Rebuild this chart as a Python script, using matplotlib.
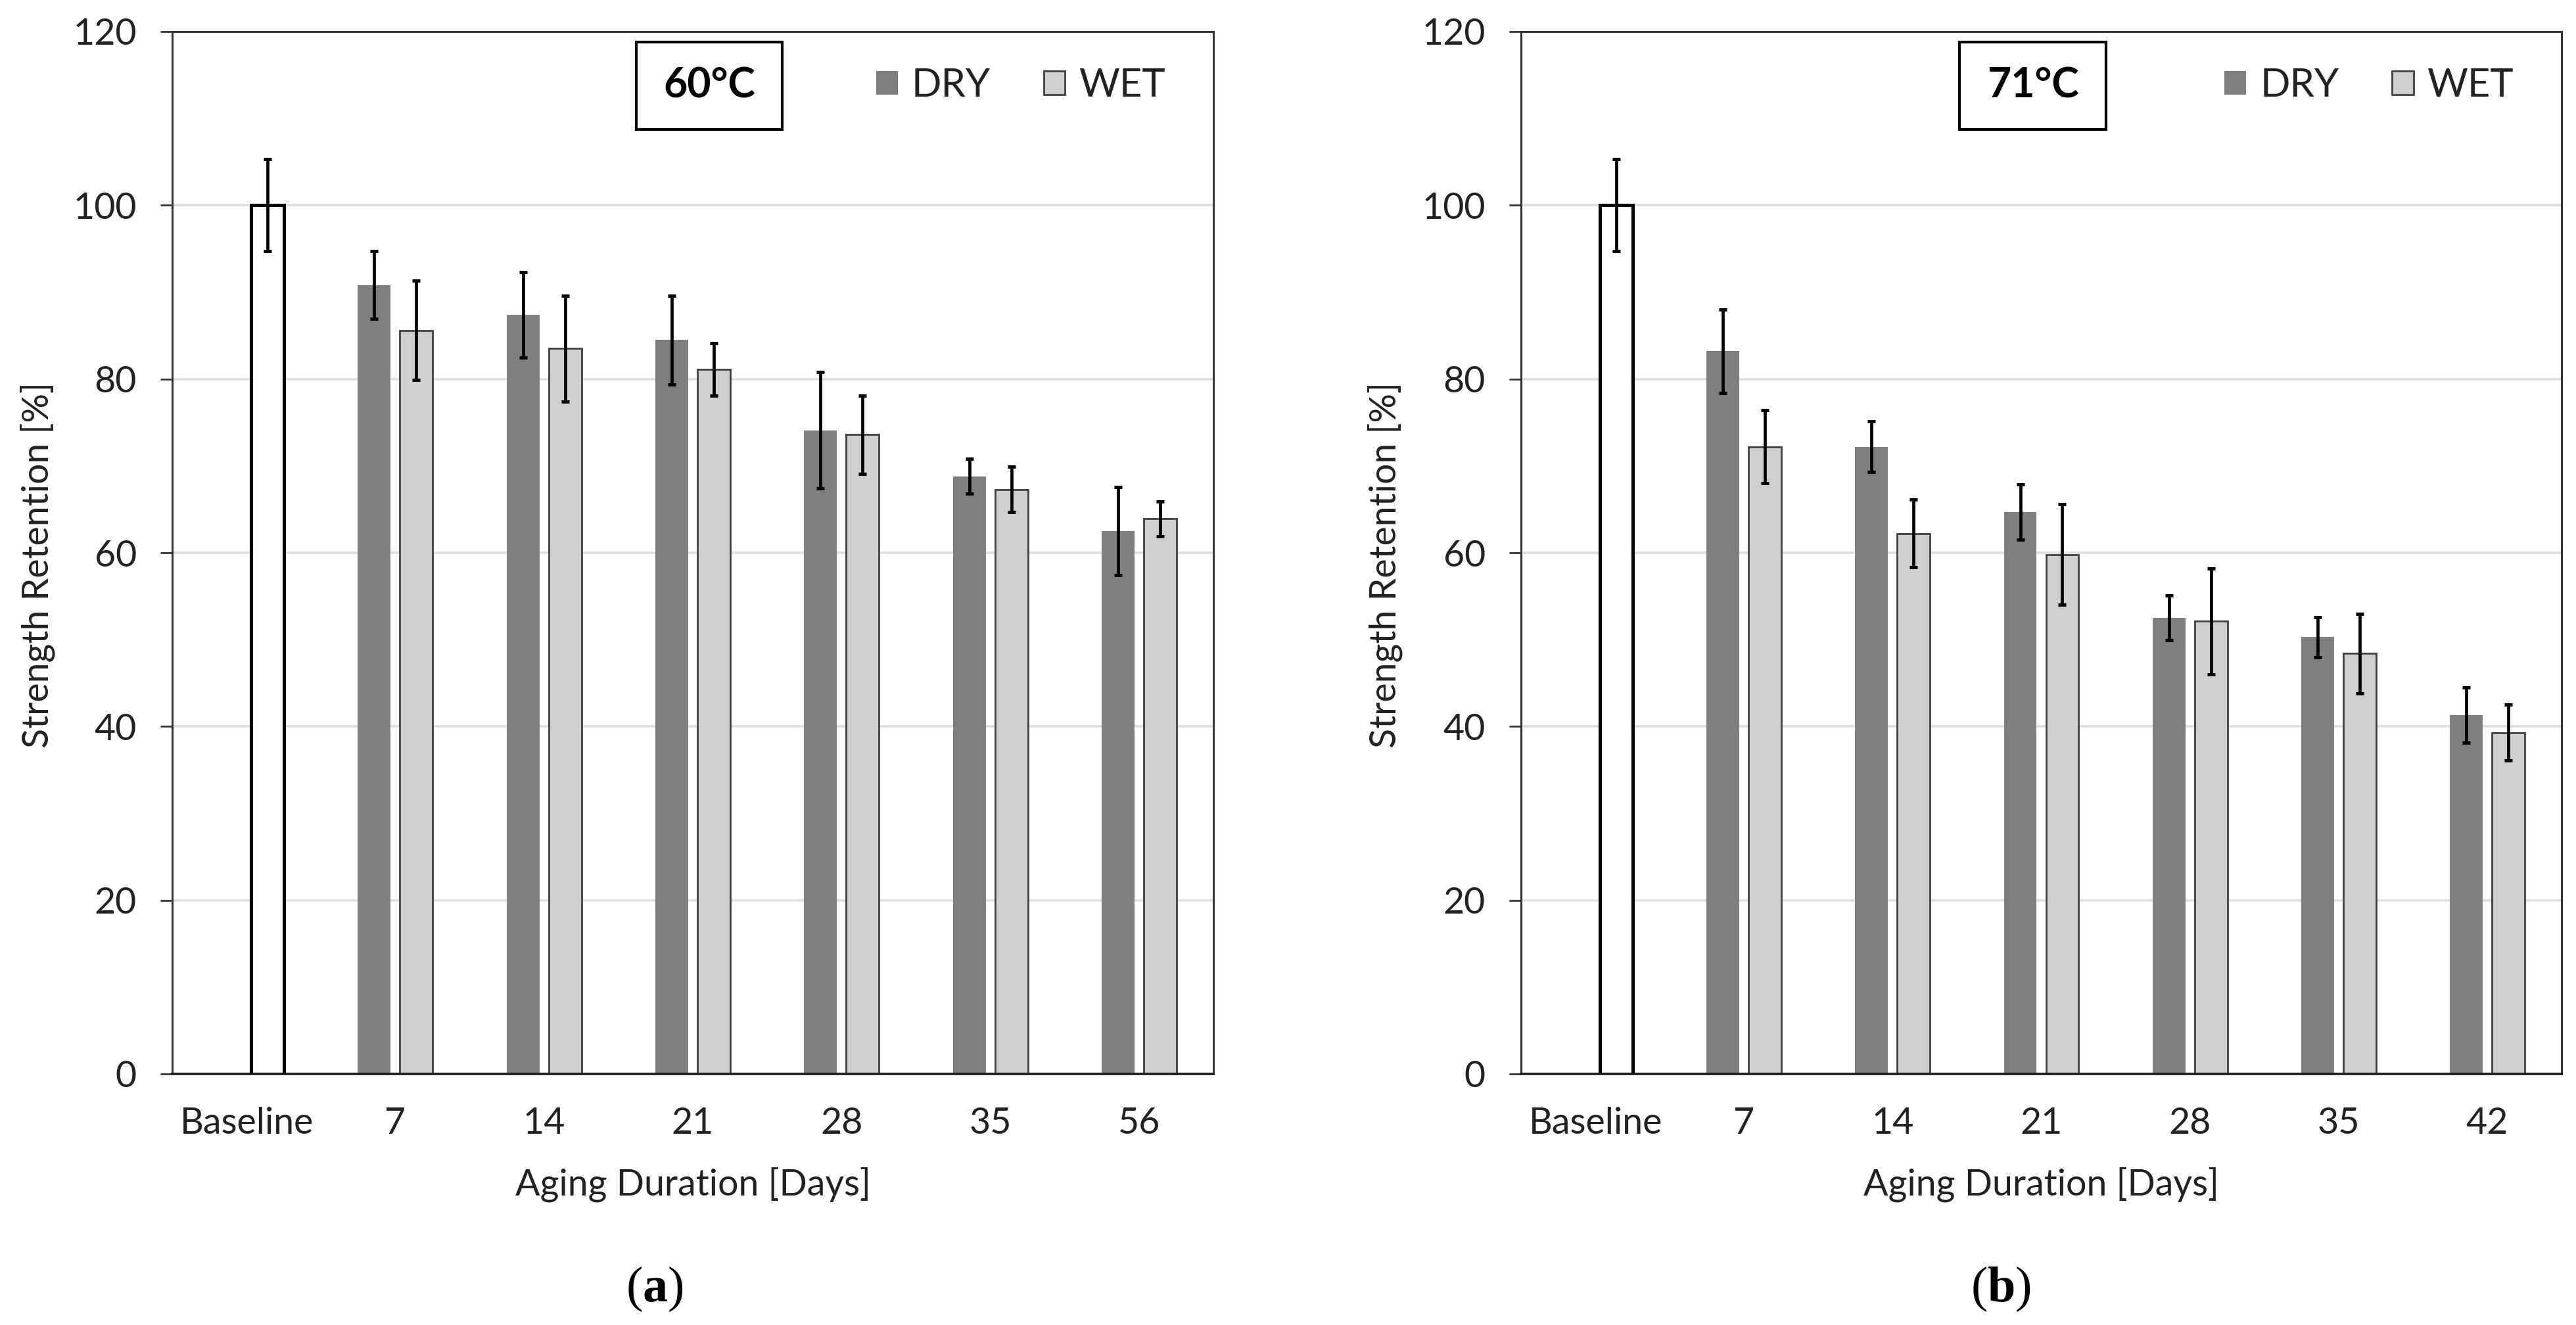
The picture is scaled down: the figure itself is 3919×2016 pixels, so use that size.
import matplotlib
matplotlib.use("Agg")
import matplotlib.pyplot as plt
from matplotlib.patches import Patch, Rectangle
import numpy as np

# ---------------- data ----------------
cats_a = ['Baseline', '7', '14', '21', '28', '35', '56']
cats_b = ['Baseline', '7', '14', '21', '28', '35', '42']
baseline_val = 100.0
baseline_err = 5.3

dry_a = [90.8, 87.4, 84.5, 74.1, 68.8, 62.5]
dry_a_err = [3.9, 4.9, 5.1, 6.7, 2.0, 5.1]
wet_a = [85.6, 83.5, 81.1, 73.6, 67.3, 63.9]
wet_a_err = [5.7, 6.1, 3.0, 4.5, 2.6, 2.0]

dry_b = [83.2, 72.2, 64.7, 52.5, 50.3, 41.3]
dry_b_err = [4.8, 2.9, 3.2, 2.6, 2.3, 3.2]
wet_b = [72.2, 62.2, 59.8, 52.1, 48.4, 39.3]
wet_b_err = [4.2, 3.9, 5.8, 6.1, 4.6, 3.2]

temps = ['60°C', '71°C']
series_names = ['DRY', 'WET']
yticks = [0, 20, 40, 60, 80, 100, 120]
xlabel = 'Aging Duration [Days]'
ylabel = 'Strength Retention [%]'
captions = ['a', 'b']

# ---------------- style ----------------
plt.rcParams['font.family'] = ['Lato', 'DejaVu Sans']
plt.rcParams['mathtext.fontset'] = 'custom'
plt.rcParams['mathtext.rm'] = 'Liberation Serif'
plt.rcParams['mathtext.bf'] = 'Liberation Serif:bold'

DRY_C = '#7f7f7f'
WET_C = '#d0cece'
W = 3919
H = 2016
fig = plt.figure(figsize=(W / 100, H / 100), dpi=100)

ax_specs = [
    dict(left=262, right=1846, box_x0=968, box_x1=1190, cap_x=996, ylab_x=57),
    dict(left=2314, right=3897, box_x0=2981, box_x1=3204, cap_x=3044, ylab_x=2107),
]
top_px, bot_px = 48, 1634

panels = [
    (cats_a, dry_a, dry_a_err, wet_a, wet_a_err),
    (cats_b, dry_b, dry_b_err, wet_b, wet_b_err),
]

bw = 0.221
off = 0.1415
tick_fs = 40
leg_fs = 43

for i, (spec, (cats, dry, dry_err, wet, wet_err)) in enumerate(zip(ax_specs, panels)):
    l, r = spec['left'], spec['right']
    ax = fig.add_axes([l / W, 1 - bot_px / H, (r - l) / W, (bot_px - top_px) / H])
    x = np.arange(len(cats))
    xs = x[1:]
    # baseline bar
    ax.bar([x[0] + off], [baseline_val], width=bw, color='white', edgecolor='black',
           linewidth=3.6, zorder=3)
    ax.errorbar([x[0] + off], [baseline_val], yerr=[baseline_err], fmt='none',
                ecolor='black', elinewidth=3.4, capsize=4.5, capthick=3.6, zorder=5)
    ax.bar(xs - off, dry, width=bw, color=DRY_C, edgecolor='none', zorder=3, label=series_names[0])
    ax.bar(xs + off, wet, width=bw, color=WET_C, edgecolor='#404040', linewidth=2.0,
           zorder=3, label=series_names[1])
    ax.errorbar(xs - off, dry, yerr=dry_err, fmt='none', ecolor='black',
                elinewidth=3.4, capsize=4.5, capthick=3.6, zorder=5)
    ax.errorbar(xs + off, wet, yerr=wet_err, fmt='none', ecolor='black',
                elinewidth=3.4, capsize=4.5, capthick=3.6, zorder=5)

    ax.set_xlim(-0.5, len(cats) - 0.5)
    ax.set_ylim(0, 120)
    ax.set_yticks(yticks)
    ax.set_xticks(x)
    ax.set_xticklabels(cats)
    ax.tick_params(axis='x', length=0, pad=36, labelsize=tick_fs, colors='#222222')
    ax.tick_params(axis='y', length=13, width=2.0, pad=26, labelsize=tick_fs,
                   colors='#333333', labelcolor='#222222')
    for yv in yticks[1:-1]:
        ax.axhline(yv, color='#e0e0e0', lw=2.6, zorder=0)
    for s in ['left', 'right', 'top']:
        ax.spines[s].set_linewidth(2.2)
        ax.spines[s].set_color('#333333')
    ax.spines['bottom'].set_linewidth(2.8)
    ax.spines['bottom'].set_color('#222222')
    for sp in ax.spines.values():
        sp.set_zorder(6)

    ax.set_xlabel(xlabel, fontsize=tick_fs, color='#222222')
    ax.xaxis.set_label_coords(0.5, (bot_px - 1802) / (bot_px - top_px))
    ax.xaxis.label.set_va('center')
    ax.set_ylabel(ylabel, fontsize=tick_fs, color='#222222')
    ax.yaxis.set_label_coords((spec['ylab_x'] - l) / (r - l), (bot_px - 860) / (bot_px - top_px))
    ax.yaxis.label.set_va('center')

    # temperature box
    bx0 = (spec['box_x0'] - l) / (r - l)
    bx1 = (spec['box_x1'] - l) / (r - l)
    by0 = (bot_px - 197) / (bot_px - top_px)
    by1 = (bot_px - 64) / (bot_px - top_px)
    ax.add_patch(Rectangle((bx0, by0), bx1 - bx0, by1 - by0, transform=ax.transAxes,
                           facecolor='white', edgecolor='black', lw=3.0, zorder=7))
    ax.text((bx0 + bx1) / 2, (by0 + by1) / 2, temps[i], transform=ax.transAxes,
            ha='center', va='center', fontsize=leg_fs + 2, fontweight='bold', zorder=8)

    # legend
    handles = [Patch(facecolor=DRY_C, edgecolor='none'),
               Patch(facecolor=WET_C, edgecolor='#404040', linewidth=2.0)]
    leg = ax.legend(handles, series_names, loc='center left',
                    bbox_to_anchor=((1333 - 262) / (1846 - 262), (bot_px - 130) / (bot_px - top_px)),
                    ncol=2, frameon=False, fontsize=leg_fs, handlelength=0.55,
                    handleheight=0.55, handletextpad=0.35, columnspacing=1.35,
                    borderpad=0, borderaxespad=0)
    for t in leg.get_texts():
        t.set_color('#222222')

    fig.text(spec['cap_x'] / W, 1 - 1961 / H, r'($\mathbf{%s}$)' % captions[i],
             ha='center', va='center', fontsize=55, family='Liberation Serif')

fig.savefig('out.png', dpi=100, facecolor='white')
